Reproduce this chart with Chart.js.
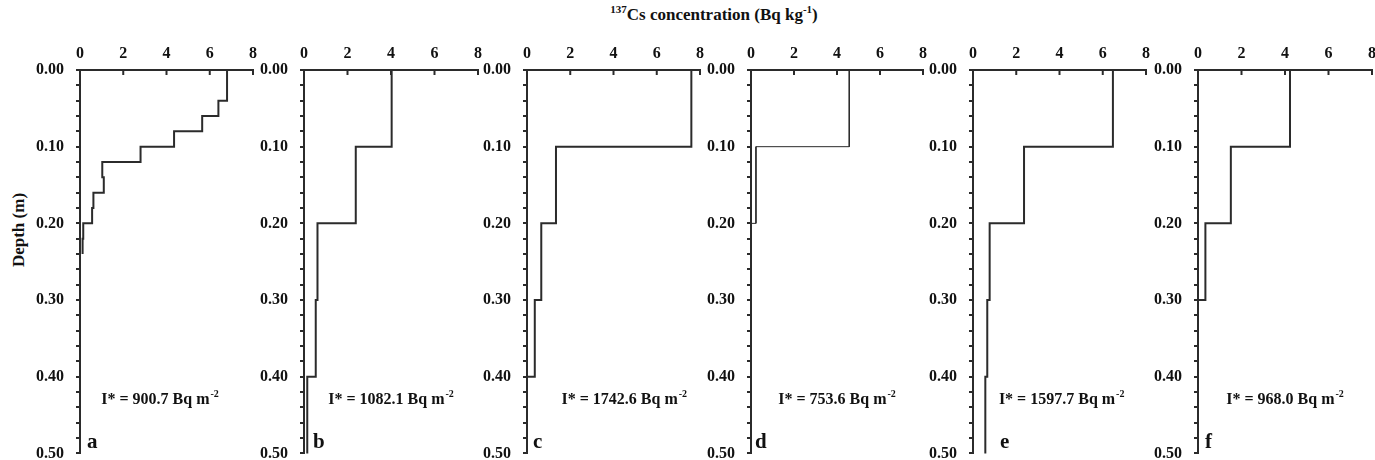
<!DOCTYPE html>
<html>
<head>
<meta charset="utf-8">
<script src="https://cdn.jsdelivr.net/npm/chart.js@4.4.1/dist/chart.umd.min.js"></script>
<style>
    body { margin: 0; width: 1375px; height: 460px; overflow: hidden; background: #fff; position: relative; font-family: "Liberation Serif", serif; }
    .panel { position: absolute; }
    #title { position: absolute; top: 3px; left: 714px; transform: translateX(-50%); font-weight: bold; font-size: 17px; color: #111; white-space: nowrap; }
    #title sup { font-size: 11px; }
    #ylabel { position: absolute; left: 19px; top: 230px; transform: translate(-50%, -50%) rotate(-90deg); font-weight: bold; font-size: 17px; color: #111; white-space: nowrap; }
</style>
</head>
<body>
<div id="title"></div>
<div id="ylabel">Depth (m)</div>

<script>
// data: layer bottoms (m) and 137Cs concentration (Bq/kg) per layer
const panelLetters = ['a', 'b', 'c', 'd', 'e', 'f'];
const inventories = [900.7, 1082.1, 1742.6, 753.6, 1597.7, 968.0];

const depthsA = [0, 0.04, 0.06, 0.08, 0.10, 0.12, 0.14, 0.16, 0.18, 0.20, 0.22, 0.24];
const concA = [6.8, 6.4, 5.65, 4.35, 2.8, 1.03, 1.1, 0.62, 0.56, 0.15, 0.12];

const depthsB = [0, 0.1, 0.2, 0.3, 0.4, 0.5];
const concB = [4.03, 2.38, 0.62, 0.54, 0.15];

const depthsC = [0, 0.1, 0.2, 0.3, 0.4];
const concC = [7.6, 1.34, 0.66, 0.36];

const depthsD = [0, 0.1, 0.2];
const concD = [4.57, 0.23];

const depthsE = [0, 0.1, 0.2, 0.3, 0.4, 0.5];
const concE = [6.47, 2.36, 0.77, 0.66, 0.57];

const depthsF = [0, 0.1, 0.2, 0.3];
const concF = [4.23, 1.51, 0.34];

// whether the profile drops back to zero below the last layer
const endsAtZero = [false, false, true, true, false, true];

const xTicks = [0, 2, 4, 6, 8];
const yTickLabels = ['0.00', '0.10', '0.20', '0.30', '0.40', '0.50'];

// layout (pixels) - kept apart from the data
const plotLefts = [80, 304, 527, 751, 973, 1198];
const plotRights = [253, 478, 700, 923, 1146, 1372];
const plotTop = 70;
const plotBottom = 453;
const yAxisWidth = 46;
const xAxisHeight = 40;
const xTickPad = 7;
const rightRoom = 4 + xTickPad;   // half of the "8" label + tick padding
const bottomRoom = 22;            // chart.js keeps room for half of the last y label
const lineWidths = [2, 2, 2, 1, 2, 2];
const noteX = [3.7, 4.0, 4.5, 4.0, 4.1, 4.0];
const letterOffset = [7, 9, 6, 4, 27, 7];

const ink = '#2b2b2b';
const textInk = '#111';
const fontFamily = '"Liberation Serif", "Times New Roman", serif';

document.getElementById('title').innerHTML = '<sup>137</sup>Cs concentration (Bq kg<sup>-1</sup>)';

const profiles = [
    [depthsA, concA], [depthsB, concB], [depthsC, concC],
    [depthsD, concD], [depthsE, concE], [depthsF, concF]
];

function stepPoints(depths, conc, toZero) {
    const pts = [];
    for (let i = 0; i < conc.length; i++) {
        pts.push({ x: conc[i], y: depths[i] });
        pts.push({ x: conc[i], y: depths[i + 1] });
    }
    if (toZero) pts.push({ x: 0, y: depths[depths.length - 1] });
    return pts;
}

// inward tick marks on the top axis + note text + panel letter
const panelDeco = {
    id: 'panelDeco',
    afterDraw(chart, args, opts) {
        const ctx = chart.ctx;
        const xs = chart.scales.x;
        const ys = chart.scales.y;
        const top = chart.chartArea.top;
        ctx.save();
        ctx.strokeStyle = ink;
        ctx.lineWidth = 2;
        xTicks.forEach(v => {
            if (v === 0) return;
            const px = xs.getPixelForValue(v);
            ctx.beginPath();
            ctx.moveTo(px, top);
            ctx.lineTo(px, top + 5);
            ctx.stroke();
        });

        // I* note
        ctx.fillStyle = textInk;
        ctx.textBaseline = 'middle';
        ctx.font = 'bold 16px ' + fontFamily;
        const main = opts.text;
        const wMain = ctx.measureText(main).width;
        ctx.font = 'bold 10px ' + fontFamily;
        const wSup = ctx.measureText(opts.sup).width;
        const cx = xs.getPixelForValue(opts.x);
        const cy = ys.getPixelForValue(0.43);
        const x0 = cx - (wMain + wSup + 1) / 2;
        ctx.textAlign = 'left';
        ctx.font = 'bold 16px ' + fontFamily;
        ctx.fillText(main, x0, cy);
        ctx.font = 'bold 10px ' + fontFamily;
        ctx.fillText(opts.sup, x0 + wMain + 1, cy - 5);

        // letter
        ctx.font = 'bold 21px ' + fontFamily;
        ctx.fillText(opts.letter, xs.getPixelForValue(0) + opts.dx, ys.getPixelForValue(0.486));
        ctx.restore();
    }
};

profiles.forEach((p, i) => {
    const plotW = plotRights[i] - plotLefts[i];
    const div = document.createElement('div');
    div.className = 'panel';
    div.style.left = (plotLefts[i] - yAxisWidth) + 'px';
    div.style.top = (plotTop - xAxisHeight) + 'px';
    div.style.width = (yAxisWidth + plotW + rightRoom) + 'px';
    div.style.height = (xAxisHeight + (plotBottom - plotTop) + bottomRoom) + 'px';
    const canvas = document.createElement('canvas');
    div.appendChild(canvas);
    document.body.appendChild(div);

    new Chart(canvas.getContext('2d'), {
        type: 'line',
        data: {
            datasets: [{
                data: stepPoints(p[0], p[1], endsAtZero[i]),
                borderColor: ink,
                borderWidth: lineWidths[i],
                pointRadius: 0,
                tension: 0,
                fill: false,
                clip: false
            }]
        },
        options: {
            responsive: true,
            maintainAspectRatio: false,
            animation: false,
            events: [],
            layout: { padding: 0 },
            plugins: {
                legend: { display: false },
                tooltip: { enabled: false },
                panelDeco: {
                    text: 'I* = ' + inventories[i].toFixed(1) + ' Bq m',
                    sup: '-2',
                    letter: panelLetters[i],
                    x: noteX[i],
                    dx: letterOffset[i]
                }
            },
            scales: {
                x: {
                    type: 'linear',
                    position: 'top',
                    min: 0,
                    max: 8,
                    afterBuildTicks: scale => { scale.ticks = xTicks.map(v => ({ value: v })); },
                    afterFit: scale => { scale.height = xAxisHeight; },
                    ticks: {
                        color: textInk,
                        font: { family: fontFamily, size: 16, weight: 'bold' },
                        padding: xTickPad,
                        maxRotation: 0
                    },
                    grid: { display: true, drawOnChartArea: false, drawTicks: false, color: ink },
                    border: { display: true, color: ink, width: 2 }
                },
                y: {
                    type: 'linear',
                    reverse: true,
                    min: 0,
                    max: 0.5,
                    afterFit: scale => { scale.width = yAxisWidth; },
                    ticks: {
                        stepSize: 0.02,
                        autoSkip: false,
                        color: textInk,
                        font: { family: fontFamily, size: 16, weight: 'bold' },
                        padding: 12,
                        callback: v => {
                            const k = Math.round(v * 10);
                            return Math.abs(v * 10 - k) < 1e-6 ? yTickLabels[k] : '';
                        }
                    },
                    grid: { display: true, drawOnChartArea: false, drawTicks: true, tickLength: 4, color: ink, lineWidth: 2 },
                    border: { display: true, color: ink, width: 2 }
                }
            }
        },
        plugins: [panelDeco]
    });
});
</script>
</body>
</html>
